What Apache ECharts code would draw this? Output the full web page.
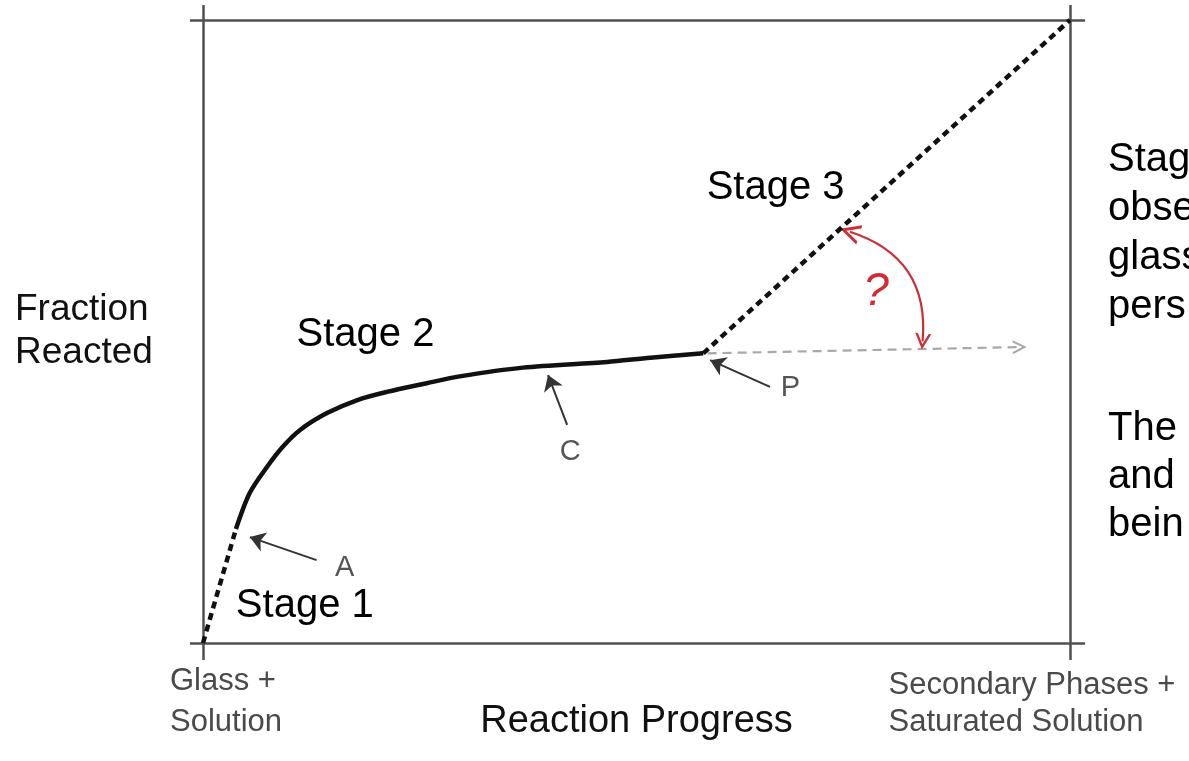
<!DOCTYPE html>
<html>
<head>
<meta charset="utf-8">
<script src="https://cdn.jsdelivr.net/npm/echarts@6/dist/echarts.min.js"></script>
<style>
  html, body { margin: 0; padding: 0; background: #fff; overflow: hidden; }
  #chart { width: 1189px; height: 761px; }
</style>
</head>
<body>
<div id="chart"></div>
<script>
(function(){

    // curve pieces, in axis units (0..100 both ways)
    let stage1Line = [[0, 0], [3.8, 18.3]];
    let stage2Line = [[3.8, 18.3], [5.4, 24.1], [7.4, 28.3], [9.2, 31.5], [11.2, 34.2], [14.3, 36.9],
                      [17.8, 39.0], [21.2, 40.3], [25.8, 41.7], [29.6, 42.8], [36.9, 44.2],
                      [46.6, 45.1], [51.6, 45.8], [57.7, 46.5]];
    let stage3Line = [[57.7, 46.5], [100, 100]];
    let plateauArrow = [[58.2, 46.5], [94.2, 47.5]];
    let angleArrow = [[74.6, 66.0], [83.0, 48.4]];

    // small pointer arrows: [tail, tip]
    let pointerArrows = [
        [[13.1, 13.3], [5.4, 17.0]],   // A
        [[42.0, 35.0], [39.8, 43.0]],  // C
        [[65.4, 41.1], [58.5, 45.4]]   // P
    ];

    let stageLabels = [['Stage 1', 11.8, 5.8], ['Stage 2', 18.8, 49.3], ['Stage 3', 66.1, 73.0]];
    let pointLabels = [['A', 16.4, 12.0], ['C', 42.4, 30.5], ['P', 67.8, 40.9]];
    let questionLabel = ['?', 77.7, 56.3];

    let xEndLabels = ['Glass +\nSolution', 'Secondary Phases +\nSaturated Solution'];
    let sideText1 = ['Stag', 'obse', 'glass', 'pers'];
    let sideText2 = ['The', 'and', 'bein'];

    let chevron = 'path://M0,10 L5,0 L10,10 L8.4,10 L5,3.2 L1.6,10 Z';
    let font = 'Liberation Sans, Arial, sans-serif';

    let _frameAxis = function(pos, tickLen){
        return {
            type: 'value',
            position: pos,
            min: 0,
            max: 100,
            interval: 100,
            axisLine: { show: true, onZero: false, lineStyle: { color: '#505050', width: 2.5 } },
            axisTick: { show: true, length: tickLen, lineStyle: { color: '#505050', width: 2.5 } },
            axisLabel: { show: false },
            splitLine: { show: false }
        };
    };

    let xBottom = _frameAxis('bottom', 17);
    xBottom.name = 'Reaction Progress';
    xBottom.nameLocation = 'middle';
    xBottom.nameGap = 60;
    xBottom.nameMoveOverlap = false;
    xBottom.nameTextStyle = { fontFamily: font, fontSize: 38, color: '#111' };
    xBottom.axisLabel = {
        show: true,
        margin: 18,
        fontFamily: font,
        fontSize: 31,
        color: '#4a4a4a',
        formatter: function(v){
            let parts = (v === 0 ? xEndLabels[0] : xEndLabels[1]).split('\n');
            if (v === 0){
                return '{g|' + parts[0] + '}\n{g|' + parts[1] + '}';
            }
            return '{s1|' + parts[0] + '}\n{s|' + parts[1] + '}';
        },
        rich: {
            g: { fontFamily: font, fontSize: 31, color: '#4a4a4a', width: 112, align: 'left', lineHeight: 41, padding: [0, 0, 0, 46] },
            s1: { fontFamily: font, fontSize: 31, color: '#4a4a4a', width: 293, align: 'left', lineHeight: 41, padding: [8, 70, 0, 0] },
            s: { fontFamily: font, fontSize: 31, color: '#4a4a4a', width: 293, align: 'left', lineHeight: 41, padding: [0, 70, 0, 0] }
        }
    };

    let yLeft = _frameAxis('left', 13);
    yLeft.name = '{n|Fraction}\n{n|Reacted}';
    yLeft.nameLocation = 'middle';
    yLeft.nameRotate = 0;
    yLeft.nameGap = 46;
    yLeft.nameTextStyle = {
        fontFamily: font, fontSize: 37, color: '#111',
        rich: { n: { fontFamily: font, fontSize: 37, color: '#111', width: 142, align: 'left', lineHeight: 43 } }
    };

    let _labelItems = function(list, size, color, extra){
        return list.map(function(l){
            return {
                name: l[0],
                value: [l[1], l[2]],
                label: Object.assign({ fontSize: size, color: color, fontFamily: font, textBorderWidth: 0, opacity: 1 }, extra || {})
            };
        });
    };

    let opts = {
        animation: false,
        backgroundColor: '#fff',
        grid: { left: 203, right: 119, top: 20, bottom: 118, containLabel: false, outerBoundsMode: 'none' },
        xAxis: [xBottom, _frameAxis('top', 15)],
        yAxis: [yLeft, _frameAxis('right', 15)],
        graphic: [
            {
                type: 'group',
                children: sideText1.map(function(t, i){
                    return { type: 'text', x: 1108, y: 160 + i * 49,
                             style: { text: t, fill: '#000', font: '40px ' + font, verticalAlign: 'middle' } };
                }).concat(sideText2.map(function(t, i){
                    return { type: 'text', x: 1108, y: 429 + i * 48,
                             style: { text: t, fill: '#000', font: '40px ' + font, verticalAlign: 'middle' } };
                }))
            }
        ],
        series: [
            {
                name: 'stage1', type: 'line', data: stage1Line, symbol: 'none', silent: true,
                lineStyle: { color: '#111', width: 4.5, type: [7, 5] }
            },
            {
                name: 'stage2', type: 'line', data: stage2Line, symbol: 'none', silent: true, smooth: 0.3,
                lineStyle: { color: '#111', width: 4.5 }
            },
            {
                name: 'stage3', type: 'line', data: stage3Line, symbol: 'none', silent: true,
                lineStyle: { color: '#111', width: 4.5, type: [7, 5] }
            },
            {
                name: 'plateau', type: 'lines', coordinateSystem: 'cartesian2d', silent: true,
                symbol: ['none', chevron], symbolSize: [20, 14],
                lineStyle: { color: '#a8a8a8', width: 2.2, type: [9, 6], opacity: 1 },
                data: [{ coords: plateauArrow }]
            },
            {
                name: 'angle', type: 'lines', coordinateSystem: 'cartesian2d', silent: true,
                symbol: [chevron, chevron], symbolSize: [20, 16],
                lineStyle: { color: '#cc2f36', width: 2.2, curveness: 0.4, opacity: 1 },
                data: [{ coords: angleArrow }]
            },
            {
                name: 'pointers', type: 'lines', coordinateSystem: 'cartesian2d', silent: true,
                symbol: ['none', 'arrow'], symbolSize: [13, 15],
                lineStyle: { color: '#333', width: 2, opacity: 1 },
                data: pointerArrows.map(function(a){ return { coords: a }; })
            },
            {
                name: 'labels', type: 'scatter', symbolSize: 1, silent: true,
                itemStyle: { color: '#fff', opacity: 1 },
                label: { show: true, position: [0, 0], align: 'center', verticalAlign: 'middle', formatter: '{b}' },
                data: _labelItems(stageLabels, 40, '#000')
                    .concat(_labelItems(pointLabels, 29, '#555'))
                    .concat(_labelItems([questionLabel], 46, '#d42a32', { fontStyle: 'italic' }))
            }
        ]
    };

    let chart = echarts.init(document.getElementById('chart'));
    chart.setOption(opts);
})();
</script>
</body>
</html>
